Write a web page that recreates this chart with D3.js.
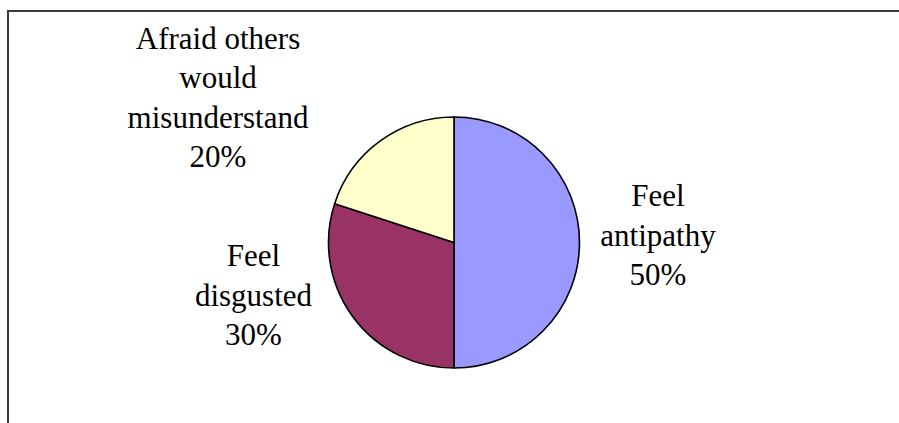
<!DOCTYPE html>
<html>
<head>
<meta charset="utf-8">
<script src="https://cdn.jsdelivr.net/npm/d3@7"></script>
</head>
<body style="margin:0;background:#fff">
<svg id="chart" width="899" height="423"></svg>
<script>
// Survey responses, drawn clockwise from 12 o'clock
const categories = ["Feel antipathy", "Feel disgusted", "Afraid others would misunderstand"];
const values = [50, 30, 20];
const labelLines = [
  ["Feel", "antipathy"],
  ["Feel", "disgusted"],
  ["Afraid others", "would", "misunderstand"]
];
const colors = ["#9999FF", "#993366", "#FFFFCC"];

const width = 899, height = 423;
const cx = 454, cy = 242.5, radius = 125.5;
const lineStep = 39.6;
const labelFont = "Liberation Serif";

// Label anchor (centre x, first baseline y) for each slice
const labelAnchors = [
  { x: 658, y: 206 },
  { x: 253.5, y: 266 },
  { x: 218, y: 48.5 }
];

const svg = d3.select("#chart");

// Chart-area frame (left and top edges visible)
svg.append("path")
  .attr("d", "M8,423 L8,11 L899,11")
  .attr("fill", "none")
  .attr("stroke", "#3a3a3a")
  .attr("stroke-width", 2);

const total = d3.sum(values);
const pie = d3.pie().sort(null).value(d => d.value);
const arc = d3.arc().innerRadius(0).outerRadius(radius);

const data = categories.map((c, i) => ({ category: c, value: values[i], lines: labelLines[i], color: colors[i] }));
const arcs = pie(data);

const g = svg.append("g").attr("transform", `translate(${cx},${cy})`);
g.selectAll("path.slice")
  .data(arcs)
  .join("path")
  .attr("class", "slice")
  .attr("d", arc)
  .attr("fill", d => d.data.color)
  .attr("stroke", "#000")
  .attr("stroke-width", 1.6)
  .attr("stroke-linejoin", "round");

// Category labels with percentage: one text element per line
arcs.forEach((d, i) => {
  const a = labelAnchors[i];
  const lines = d.data.lines.concat([Math.round(d.data.value / total * 100) + "%"]);
  svg.selectAll(null)
    .data(lines)
    .join("text")
    .attr("class", "label")
    .attr("x", a.x)
    .attr("y", (ln, k) => a.y + k * lineStep)
    .attr("text-anchor", "middle")
    .attr("font-family", labelFont)
    .style("font-family", `"${labelFont}"`)
    .style("font-size", "31px")
    .style("fill", "#000")
    .text(ln => ln);
});
</script>
</body>
</html>
